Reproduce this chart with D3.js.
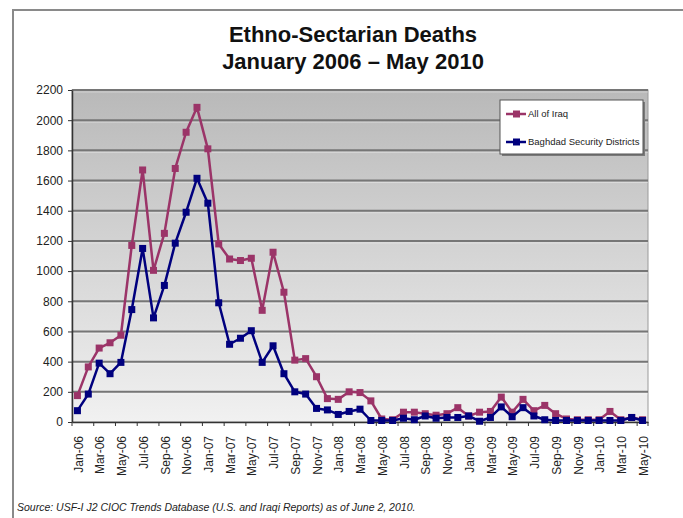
<!DOCTYPE html>
<html>
<head>
<meta charset="utf-8">
<script src="https://cdn.jsdelivr.net/npm/d3@7"></script>
<style>
  html, body { margin: 0; padding: 0; background: #fff; }
  svg { display: block; }
</style>
</head>
<body>
<svg id="chart" width="683" height="518"></svg>
<script>
// Monthly categories, January 2006 through May 2010
const months = [
  "Jan-06","Feb-06","Mar-06","Apr-06","May-06","Jun-06","Jul-06","Aug-06","Sep-06","Oct-06","Nov-06","Dec-06",
  "Jan-07","Feb-07","Mar-07","Apr-07","May-07","Jun-07","Jul-07","Aug-07","Sep-07","Oct-07","Nov-07","Dec-07",
  "Jan-08","Feb-08","Mar-08","Apr-08","May-08","Jun-08","Jul-08","Aug-08","Sep-08","Oct-08","Nov-08","Dec-08",
  "Jan-09","Feb-09","Mar-09","Apr-09","May-09","Jun-09","Jul-09","Aug-09","Sep-09","Oct-09","Nov-09","Dec-09",
  "Jan-10","Feb-10","Mar-10","Apr-10","May-10"
];

// Ethno-sectarian deaths, all of Iraq
const allIraq = [
  175, 365, 490, 525, 575, 1170, 1670, 1005, 1250, 1680, 1920, 2085,
  1810, 1180, 1080, 1070, 1085, 740, 1125, 860, 410, 420, 300, 155,
  150, 200, 195, 140, 20, 15, 65, 65, 55, 45, 55, 95,
  40, 65, 70, 165, 65, 150, 75, 110, 55, 20, 15, 15,
  15, 70, 15, 30, 15
];

// Ethno-sectarian deaths, Baghdad security districts
const baghdad = [
  75, 185, 390, 320, 395, 745, 1150, 690, 905, 1185, 1390, 1615,
  1450, 790, 515, 555, 605, 395, 505, 320, 200, 185, 90, 80,
  50, 70, 85, 10, 10, 10, 25, 15, 40, 25, 30, 30,
  40, 5, 30, 100, 35, 95, 40, 15, 10, 10, 10, 10,
  10, 10, 10, 30, 10
];

const yTicks = [0, 200, 400, 600, 800, 1000, 1200, 1400, 1600, 1800, 2000, 2200];
const seriesNames = ["All of Iraq", "Baghdad Security Districts"];
const seriesColors = ["#9b3468", "#00007e"];

const svg = d3.select("#chart");
const plot = { left: 72, right: 648, top: 90, bottom: 422 };

const x = d3.scaleBand().domain(months).range([plot.left, plot.right]).padding(0);
const y = d3.scaleLinear().domain([0, 2200]).range([plot.bottom, plot.top]);
const cx = m => x(m) + x.bandwidth() / 2;

// Outer frame
svg.append("path")
  .attr("d", "M13,530 L13,10 L690,10")
  .attr("fill", "none").attr("stroke", "#8a8a8a").attr("stroke-width", 2);

// Title
const title = svg.append("text")
  .attr("text-anchor", "middle")
  .attr("font-family", "Liberation Sans, Arial, sans-serif")
  .attr("font-weight", "bold").attr("font-size", 22).attr("fill", "#111");
title.append("tspan").attr("x", 353).attr("y", 42).text("Ethno-Sectarian Deaths");
title.append("tspan").attr("x", 353).attr("y", 69).text("January 2006 \u2013 May 2010");

// Plot background gradient
const defs = svg.append("defs");
const grad = defs.append("linearGradient").attr("id", "bg").attr("x1", 0).attr("y1", 0).attr("x2", 0).attr("y2", 1);
grad.append("stop").attr("offset", "0%").attr("stop-color", "#b9b9b9");
grad.append("stop").attr("offset", "100%").attr("stop-color", "#f1f1f1");

svg.append("rect")
  .attr("x", plot.left).attr("y", plot.top)
  .attr("width", plot.right - plot.left).attr("height", plot.bottom - plot.top)
  .attr("fill", "url(#bg)").attr("stroke", "#9a9a9a").attr("stroke-width", 1);

// Horizontal gridlines, with a faint highlight beneath each
const gridVals = yTicks.filter(v => v > 0);
svg.append("g").selectAll("line")
  .data(gridVals)
  .join("line")
  .attr("x1", plot.left).attr("x2", plot.right)
  .attr("y1", d => y(d) + 2).attr("y2", d => y(d) + 2)
  .attr("stroke", "#ffffff").attr("stroke-opacity", 0.35).attr("stroke-width", 1);
svg.append("g").selectAll("line")
  .data(gridVals)
  .join("line")
  .attr("x1", plot.left).attr("x2", plot.right)
  .attr("y1", d => y(d)).attr("y2", d => y(d))
  .attr("stroke", "#767676").attr("stroke-width", 2);

// Y axis
const yAxis = svg.append("g")
  .attr("transform", `translate(${plot.left},0)`)
  .call(d3.axisLeft(y).tickValues(yTicks).tickSize(4).tickSizeOuter(0).tickPadding(5).tickFormat(d3.format("d")));
yAxis.select(".domain").attr("stroke", "#333").attr("stroke-width", 1.5);
yAxis.selectAll(".tick line").attr("stroke", "#333");
yAxis.selectAll("text")
  .attr("font-family", "Liberation Sans, Arial, sans-serif").attr("font-size", 12)
  .attr("fill", "#222");

// X axis: labels on every other month, ticks on category boundaries
const labelMonths = months.filter((m, i) => i % 2 === 0);
const xAxis = svg.append("g")
  .attr("transform", `translate(0,${plot.bottom})`)
  .call(d3.axisBottom(x).tickValues(labelMonths).tickSize(0).tickPadding(0));
xAxis.select(".domain").attr("stroke", "#333").attr("stroke-width", 1.5);
xAxis.selectAll("text")
  .attr("font-family", "Liberation Sans, Arial, sans-serif").attr("font-size", 12)
  .attr("fill", "#222")
  .attr("text-anchor", "end")
  .attr("dominant-baseline", "middle")
  .attr("dy", null)
  .attr("transform", "translate(2,14) rotate(-90)");

svg.append("g").selectAll("line")
  .data(labelMonths.concat(["__end"]))
  .join("line")
  .attr("x1", d => d === "__end" ? plot.right : x(d))
  .attr("x2", d => d === "__end" ? plot.right : x(d))
  .attr("y1", plot.bottom).attr("y2", plot.bottom + 4)
  .attr("stroke", "#333").attr("stroke-width", 1);

// Series lines and square markers
const line = d3.line().x((d, i) => cx(months[i])).y(d => y(d));
[allIraq, baghdad].forEach((vals, k) => {
  const g = svg.append("g");
  g.append("path")
    .datum(vals)
    .attr("d", line)
    .attr("fill", "none").attr("stroke", seriesColors[k])
    .attr("stroke-width", 2.5).attr("stroke-linejoin", "round");
  g.selectAll("rect")
    .data(vals)
    .join("rect")
    .attr("x", (d, i) => cx(months[i]) - 3.5)
    .attr("y", d => y(d) - 3.5)
    .attr("width", 7).attr("height", 7)
    .attr("fill", seriesColors[k]);
});

// Legend
const lg = svg.append("g");
lg.append("rect")
  .attr("x", 502).attr("y", 102).attr("width", 143).attr("height", 54)
  .attr("fill", "#7a7a7a");
lg.append("rect")
  .attr("x", 500).attr("y", 100).attr("width", 143).attr("height", 54)
  .attr("fill", "#fff").attr("stroke", "#555").attr("stroke-width", 1);
seriesNames.forEach((name, k) => {
  const ly = [114, 142][k];
  lg.append("line")
    .attr("x1", 506).attr("x2", 526).attr("y1", ly).attr("y2", ly)
    .attr("stroke", seriesColors[k]).attr("stroke-width", 2.5);
  lg.append("rect")
    .attr("x", 513).attr("y", ly - 3.5).attr("width", 7).attr("height", 7)
    .attr("fill", seriesColors[k]);
  lg.append("text")
    .attr("x", 528).attr("y", ly)
    .attr("dominant-baseline", "middle")
    .attr("font-family", "Liberation Sans, Arial, sans-serif").attr("font-size", 9.5)
    .attr("fill", "#222")
    .text(name);
});

// Source note
svg.append("text")
  .attr("x", 17).attr("y", 511)
  .attr("font-family", "Liberation Sans, Arial, sans-serif").attr("font-size", 10.5)
  .attr("font-style", "italic").attr("fill", "#222")
  .text("Source:  USF-I J2 CIOC Trends Database (U.S. and Iraqi Reports) as of June 2, 2010.");
</script>
</body>
</html>
